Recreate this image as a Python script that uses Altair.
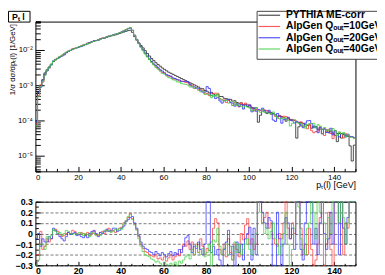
import altair as alt
import pandas as pd

FONT = "Liberation Sans"

# ---------------- data (1 GeV bins, left edges 0..149) ----------------
pt_edges = list(range(0, 151))

# PYTHIA ME-corr, log10 of 1/sigma dsigma/dpT per bin
pythia_log10 = [
    -4.00, -3.20, -3.00, -2.84, -2.65, -2.56, -2.48, -2.40, -2.33, -2.28,
    -2.24, -2.19, -2.15, -2.11, -2.07, -2.04, -2.01, -1.98, -1.96, -1.93,
    -1.91, -1.89, -1.86, -1.84, -1.81, -1.79, -1.77, -1.75, -1.73, -1.71,
    -1.69, -1.67, -1.66, -1.64, -1.62, -1.60, -1.59, -1.57, -1.55, -1.53,
    -1.51, -1.49, -1.47, -1.45, -1.44, -1.50, -1.62, -1.72, -1.80, -1.87,
    -1.94, -2.02, -2.10, -2.17, -2.24, -2.30, -2.36, -2.41, -2.46, -2.51,
    -2.55, -2.59, -2.63, -2.66, -2.69, -2.72, -2.75, -2.78, -2.81, -2.84,
    -2.87, -2.90, -2.93, -2.96, -2.99, -3.02, -3.05, -3.09, -3.10, -3.15,
    -3.17, -3.22, -3.20, -3.25, -3.28, -3.27, -3.32, -3.32, -3.37, -3.38,
    -3.41, -3.40, -3.45, -3.44, -3.49, -3.51, -3.50, -3.55, -3.54, -3.60,
    -3.58, -3.63, -3.66, -3.64, -4.05, -3.85, -3.73, -3.76, -3.80, -3.77,
    -3.82, -3.80, -3.84, -3.88, -3.86, -3.89, -3.92, -4.02, -3.95, -3.97,
    -4.01, -4.00, -4.50, -4.18, -4.06, -4.08, -4.12, -4.14, -4.13, -4.22,
    -4.16, -4.19, -4.25, -4.24, -4.38, -4.24, -4.27, -4.33, -4.30, -4.36,
    -4.42, -4.60, -4.37, -4.50, -4.40, -4.42, -4.45, -4.72, -5.15, -4.70,
]

# (AlpGen - PYTHIA) / PYTHIA per bin
ratio_q10 = [
    -0.20, -0.20, 0.02, -0.15, -0.12, -0.05, -0.08, -0.05, 0.03, 0.04,
    0.02, -0.01, -0.03, -0.02, 0.00, 0.01, 0.00, 0.03, 0.02, 0.00,
    -0.01, 0.01, 0.00, -0.02, 0.01, -0.02, 0.00, 0.02, -0.01, -0.02,
    0.01, 0.02, 0.00, 0.03, 0.05, 0.02, 0.03, 0.01, 0.04, 0.05,
    0.06, 0.10, 0.12, 0.15, 0.19, 0.14, 0.09, 0.04, -0.03, -0.10,
    -0.14, -0.17, -0.18, -0.20, -0.21, -0.22, -0.20, -0.24, -0.23, -0.25,
    -0.22, -0.26, -0.23, -0.20, -0.25, -0.22, -0.19, -0.21, -0.15, -0.10,
    -0.12, -0.07, -0.15, -0.08, -0.20, -0.10, -0.18, -0.05, -0.12, -0.20,
    -0.14, -0.16, -0.08, 0.05, 0.14, 0.10, -0.15, -0.20, -0.10, -0.22,
    -0.05, -0.18, -0.25, -0.10, -0.15, -0.22, 0.00, -0.06, 0.08, 0.14,
    -0.10, -0.05, -0.15, -0.10, 1.20, 0.35, 0.10, 0.15, 0.20, 0.05,
    0.10, -0.05, -0.10, -0.12, 0.00, -0.05, 0.10, 0.35, 0.05, -0.05,
    0.10, 0.00, 1.90, 0.35, 0.05, -0.20, -0.10, -0.20, 0.05, -0.15,
    -0.35, -0.25, -0.10, 0.15, 0.35, -0.35, -0.10, 0.20, -0.15, -0.30,
    0.35, 0.65, 0.10, 0.35, -0.20, 0.10, 0.05, 0.80, 3.80, 0.60,
]
ratio_q20 = [
    -0.05, 0.00, -0.12, -0.05, -0.08, -0.08, -0.03, -0.05, 0.05, 0.03,
    0.00, -0.03, -0.05, -0.07, -0.03, 0.01, -0.01, 0.00, 0.01, -0.02,
    -0.01, -0.03, -0.04, -0.02, -0.04, 0.00, 0.02, 0.03, 0.00, -0.03,
    0.01, 0.00, 0.02, 0.04, 0.02, 0.03, 0.05, 0.05, 0.02, 0.03,
    0.05, 0.07, 0.11, 0.13, 0.15, 0.16, 0.10, 0.05, -0.02, -0.08,
    -0.12, -0.14, -0.15, -0.17, -0.18, -0.20, -0.17, -0.19, -0.21, -0.18,
    -0.20, -0.22, -0.19, -0.17, -0.21, -0.18, -0.20, -0.15, -0.18, -0.12,
    -0.04, -0.02, -0.10, -0.18, -0.12, -0.14, -0.08, -0.15, -0.20, -0.10,
    0.35, 0.35, -0.18, -0.12, -0.20, -0.15, -0.25, -0.35, -0.15, -0.08,
    0.03, -0.20, -0.12, -0.30, -0.08, -0.18, -0.10, -0.25, -0.05, 0.00,
    0.06, -0.25, 0.05, -0.20, 1.30, 0.40, 0.20, 0.10, 0.05, 0.15,
    0.12, -0.35, -0.35, 0.20, -0.05, -0.35, -0.10, 0.15, 0.10, -0.05,
    0.05, -0.15, 2.00, 0.30, -0.15, -0.25, 0.10, 0.35, 0.35, 0.35,
    -0.10, 0.05, -0.20, 0.10, 0.35, 0.00, -0.15, -0.05, 0.20, -0.10,
    0.35, 0.70, -0.20, 0.35, 0.05, -0.10, 0.15, 0.85, 3.90, 0.60,
]
ratio_q40 = [
    -0.30, -0.25, -0.10, -0.10, -0.15, -0.03, -0.05, -0.02, 0.04, 0.02,
    0.00, 0.01, -0.02, 0.00, 0.03, 0.02, 0.00, -0.01, 0.00, -0.01,
    0.01, 0.00, -0.02, 0.00, -0.01, -0.03, 0.01, 0.00, -0.02, -0.01,
    -0.02, 0.01, 0.03, 0.02, 0.03, 0.01, 0.02, 0.04, 0.03, 0.05,
    0.04, 0.09, 0.12, 0.16, 0.18, 0.13, 0.08, 0.03, -0.05, -0.12,
    -0.17, -0.20, -0.21, -0.22, -0.24, -0.25, -0.27, -0.26, -0.28, -0.30,
    -0.27, -0.29, -0.30, -0.28, -0.30, -0.27, -0.30, -0.26, -0.28, -0.25,
    -0.22, -0.20, -0.24, -0.15, -0.20, -0.12, -0.18, -0.20, -0.14, -0.22,
    -0.18, -0.10, -0.30, -0.06, -0.08, 0.05, -0.12, -0.20, -0.14, -0.10,
    -0.20, -0.12, -0.25, -0.08, -0.18, -0.10, -0.20, -0.15, -0.10, -0.05,
    -0.15, -0.20, -0.10, 0.00, 1.10, 0.20, 0.10, 0.00, 0.05, -0.05,
    0.02, 0.10, -0.05, -0.10, -0.20, -0.12, 0.00, 0.20, -0.10, -0.35,
    -0.15, 0.05, 1.80, 0.25, -0.05, -0.15, -0.20, 0.05, 0.10, 0.35,
    0.20, -0.05, 0.35, 0.20, 0.35, 0.10, -0.05, 0.15, 0.00, 0.35,
    0.35, 0.50, 0.10, 0.30, 0.15, -0.10, 0.10, 0.75, 3.70, 0.55,
]

series = ["PYTHIA ME-corr", "AlpGen Qₒᵤₜ=10GeV", "AlpGen Qₒᵤₜ=20GeV", "AlpGen Qₒᵤₜ=40GeV"]
colors = ["#2a2a2a", "#ff3c3c", "#3030ff", "#44d044"]

# axis tick positions
x_major = [0, 20, 40, 60, 80, 100, 120, 140]
x_minor = [v for v in range(0, 151, 5) if v % 20]
y_decades = [1e-5, 1e-4, 1e-3, 1e-2]
y_minor = [m * 10.0 ** e for e in (-6, -5, -4, -3, -2) for m in range(2, 10)]
r_major = [-0.3, -0.2, -0.1, 0.0, 0.1, 0.2, 0.3]
r_minor = [-0.25, -0.15, -0.05, 0.05, 0.15, 0.25]

# ---------------- tables ----------------
pythia = [10.0 ** v for v in pythia_log10]
top_rows, rat_rows = [], []
for name, ratio in zip(series, [None, ratio_q10, ratio_q20, ratio_q40]):
    vals = pythia if ratio is None else [p * (1.0 + r) for p, r in zip(pythia, ratio)]
    for i in range(150):
        top_rows.append({"pt": pt_edges[i], "val": vals[i], "series": name, "idx": i})
    top_rows.append({"pt": pt_edges[150], "val": vals[-1], "series": name, "idx": 150})
    if ratio is not None:
        for i in range(150):
            rat_rows.append({"pt": pt_edges[i], "r": ratio[i], "series": name, "idx": i})
        rat_rows.append({"pt": pt_edges[150], "r": ratio[-1], "series": name, "idx": 150})
top_df = pd.DataFrame(top_rows)
rat_df = pd.DataFrame(rat_rows)
legend_df = pd.DataFrame({"series": series})
dummy = pd.DataFrame({"pt": [75.0], "val": [1e-3], "r": [0.0]})

# ---------------- geometry ----------------
W, H = 327, 249
TOP_B = 153          # bottom of upper pad (px from view top)
RAT_T, RAT_B = 184, 249


def xsc():
    return alt.Scale(domain=[0, 150], nice=False, zero=False)


def ytop():
    return alt.Scale(type="log", domain=[10 ** -5.444, 10 ** -1.194], range=[TOP_B, 0],
                     clamp=True, nice=False)


def yrat():
    return alt.Scale(domain=[-0.3, 0.3], range=[RAT_B, RAT_T], clamp=True, nice=False, zero=False)


common = dict(grid=False, labelFont=FONT, titleFont=FONT, domainColor="black",
              tickColor="black", labelColor="black", titleColor="black")


def ax(**kw):
    d = dict(common)
    d.update(kw)
    return alt.Axis(**d)


def axis_layer(yfield, yscale, xaxis, yaxis):
    return alt.Chart(dummy).mark_point(opacity=0).encode(
        x=alt.X("pt:Q", scale=xsc(), axis=xaxis),
        y=alt.Y(f"{yfield}:Q", scale=yscale, axis=yaxis),
    )


pow_expr = ("datum.value < 5e-5 ? '10⁻⁵' : datum.value < 5e-4 ? '10⁻⁴' : "
            "datum.value < 5e-3 ? '10⁻³' : '10⁻²'")

layers = [
    # upper pad: labels + domains
    axis_layer("val", ytop(),
               ax(orient="bottom", offset=TOP_B - H, values=x_major, ticks=False,
                  labelFontSize=8, labelPadding=2, domainWidth=1,
                  title="pₜ(l) [GeV]", titleFontSize=9, titleFontWeight="normal",
                  titleX=W, titleY=10, titleAlign="right", titleBaseline="top"),
               ax(orient="left", values=y_decades, ticks=False, labelExpr=pow_expr,
                  labelFontSize=8, labelPadding=3, domainWidth=1,
                  title="1/σ dσ/dpₜ(l) [1/GeV]", titleFontSize=8, titleFontWeight="normal",
                  titleAngle=270, titleX=-23, titleY=2, titleAlign="right",
                  titleBaseline="middle")),
    # upper pad: inner major ticks
    axis_layer("val", ytop(),
               ax(orient="top", offset=-TOP_B, values=x_major, tickSize=5, labels=False,
                  domain=False, title=None),
               ax(orient="right", offset=-W, values=y_decades, tickSize=9, labels=False,
                  domain=False, title=None)),
    # upper pad: inner minor ticks
    axis_layer("val", ytop(),
               ax(orient="top", offset=-TOP_B, values=x_minor, tickSize=3, labels=False,
                  domain=False, title=None),
               ax(orient="right", offset=-W, values=y_minor, tickSize=5, labels=False,
                  domain=False, title=None)),
    # upper pad: frame top/right
    axis_layer("val", ytop(),
               ax(orient="top", offset=0, ticks=False, labels=False, title=None),
               ax(orient="right", offset=0, ticks=False, labels=False, title=None)),
    # ratio pad: labels + grid
    axis_layer("r", yrat(),
               ax(orient="bottom", offset=0, values=x_major, ticks=False,
                  labelFontSize=9, labelFontWeight="bold", labelPadding=1, title=None),
               ax(orient="left", values=r_major, ticks=False, labelFontSize=9,
                  labelFontWeight="bold", labelPadding=3,
                  labelExpr="datum.value == 0 ? '0' : format(datum.value, '.1f')",
                  grid=True, gridDash=[3, 2], gridColor="#777777", gridWidth=1,
                  title=None)),
    # ratio pad: inner ticks
    axis_layer("r", yrat(),
               ax(orient="top", offset=-RAT_B, values=x_major, tickSize=4, labels=False,
                  domain=False, title=None),
               ax(orient="right", offset=-W, values=r_major, tickSize=5, labels=False,
                  domain=False, title=None)),
    axis_layer("r", yrat(),
               ax(orient="top", offset=-RAT_B, values=x_minor, tickSize=2, labels=False,
                  domain=False, title=None),
               ax(orient="right", offset=-W, values=r_minor, tickSize=3, labels=False,
                  domain=False, title=None)),
    # ratio pad: frame top/right
    axis_layer("r", yrat(),
               ax(orient="top", offset=-RAT_T, ticks=False, labels=False, title=None),
               ax(orient="right", offset=0, ticks=False, labels=False, title=None)),
]

color_scale = alt.Scale(domain=series, range=colors)

top_lines = alt.Chart(top_df).mark_line(interpolate="step-after", strokeWidth=1, opacity=0.85).encode(
    x=alt.X("pt:Q", scale=xsc(), axis=None),
    y=alt.Y("val:Q", scale=ytop(), axis=None),
    color=alt.Color("series:N", scale=color_scale, legend=None),
    order=alt.Order("idx:Q"),
)

rat_lines = alt.Chart(rat_df).mark_line(interpolate="step-after", strokeWidth=1, opacity=0.75).encode(
    x=alt.X("pt:Q", scale=xsc(), axis=None),
    y=alt.Y("r:Q", scale=yrat(), axis=None),
    color=alt.Color("series:N", scale=color_scale, legend=None),
    order=alt.Order("idx:Q"),
)

# ---- ROOT-style legend box (top right) ----
leg_y = alt.Y("series:N", scale=alt.Scale(type="point", domain=series, range=[-6.5, 28], padding=0),
              axis=None)
leg_box = alt.Chart(dummy).mark_rect(fill="white", stroke="#444444", strokeWidth=1).encode(
    x=alt.value(226.5), x2=alt.value(420), y=alt.value(-10.5), y2=alt.value(38.5))
leg_lines = alt.Chart(legend_df).mark_rule(strokeWidth=1.2, opacity=0.85).encode(
    x=alt.value(228), x2=alt.value(250), y=leg_y,
    color=alt.Color("series:N", scale=color_scale, legend=None))
leg_text = alt.Chart(legend_df).mark_text(font=FONT, fontSize=10.5, fontWeight="bold",
                                          align="left", baseline="middle", color="black").encode(
    x=alt.value(256), y=leg_y, text="series:N")

# ---- pad title box (top left) ----
title_box = alt.Chart(dummy).mark_rect(fill="white", stroke="black", strokeWidth=1).encode(
    x=alt.value(-27.5), x2=alt.value(-5.5), y=alt.value(-10.5), y2=alt.value(0.5))
title_txt = alt.Chart(dummy).mark_text(font=FONT, fontSize=9, fontWeight="bold", align="left",
                                       baseline="middle", color="black").encode(
    x=alt.value(-24), y=alt.value(-5), text=alt.value("Pₜ l"))

chart = alt.layer(*layers, top_lines, rat_lines, leg_box, leg_lines, leg_text,
                  title_box, title_txt).resolve_scale(
    x="independent", y="independent"
).properties(
    width=W, height=H,
    autosize=alt.AutoSizeParams(type="none"),
    padding={"left": 28, "top": 11, "right": 22, "bottom": 7},
).configure_view(stroke=None)

chart.save("out.html", embed_options={"renderer": "svg", "actions": False})
